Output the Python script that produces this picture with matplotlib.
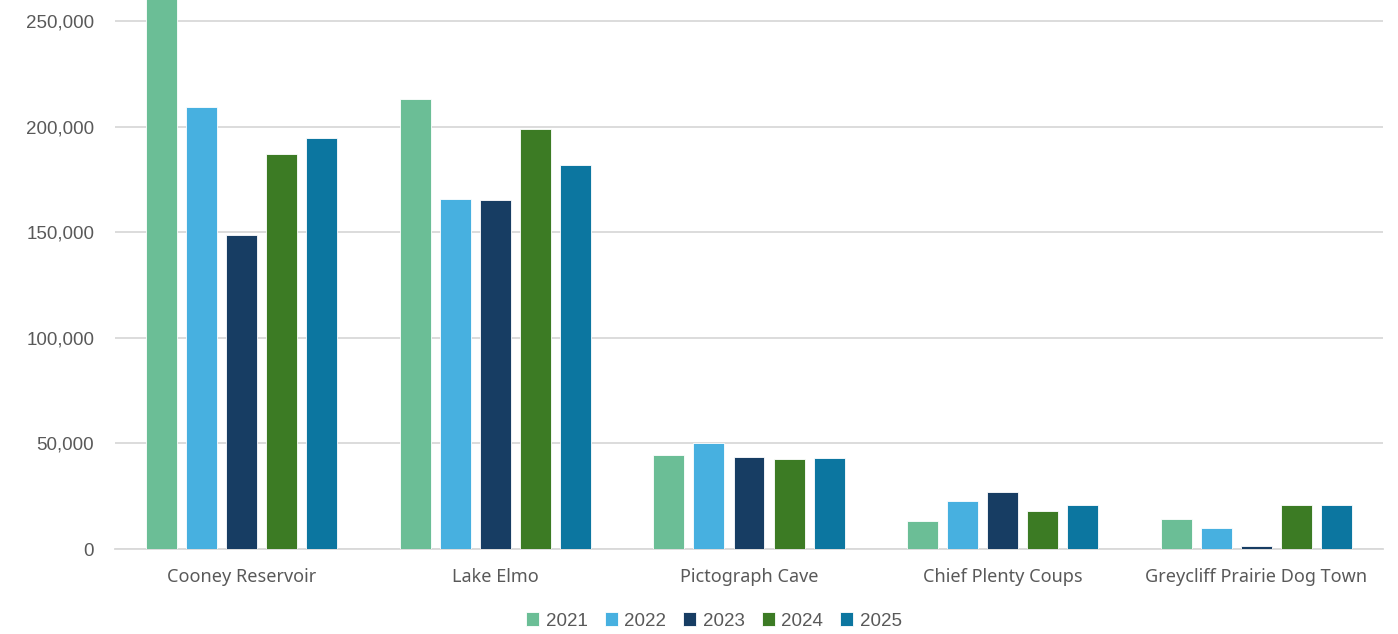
import numpy as np
import matplotlib.pyplot as plt
from matplotlib.ticker import FuncFormatter

sites = ["Cooney Reservoir", "Lake Elmo", "Pictograph Cave", "Chief Plenty Coups",
         "Greycliff Prairie Dog Town"]
years = ["2021", "2022", "2023", "2024", "2025"]

v2021 = [268000, 213200, 44600, 13300, 14250]
v2022 = [209300, 165700, 50200, 22650, 9970]
v2023 = [148600, 165200, 43800, 27050, 1200]
v2024 = [186900, 198900, 42600, 18050, 20900]
v2025 = [194500, 181700, 43200, 20900, 20750]
series = [v2021, v2022, v2023, v2024, v2025]

colors = ["#6BBE96", "#47B0E0", "#173D63", "#3C7B24", "#0C76A0"]

plt.rcParams['font.family'] = ['Liberation Sans', 'DejaVu Sans']

fig = plt.figure(figsize=(13.98, 6.34), dpi=100)
ax = fig.add_axes([115 / 1398, 1 - 549 / 634, 1268 / 1398, 549 / 634])

x = np.arange(len(sites))
step = 0.158
width = 0.122
for i, (vals, c) in enumerate(zip(series, colors)):
    ax.bar(x + (i - 2) * step, vals, width, color=c, label=years[i],
           edgecolor="white", linewidth=0.6, zorder=3)

ax.set_xlim(-0.5, len(sites) - 0.5)
ax.set_ylim(0, 260000)
ax.set_yticks(np.arange(0, 250001, 50000))
ax.yaxis.set_major_formatter(FuncFormatter(lambda v, p: f"{int(v):,}"))
ax.grid(axis="y", color="#D9D9D9", linewidth=1.3, zorder=0)
for s in ["top", "right", "left"]:
    ax.spines[s].set_visible(False)
ax.spines["bottom"].set_color("#D9D9D9")
ax.spines["bottom"].set_linewidth(1.3)
ax.tick_params(axis="both", length=0, labelsize=13.5, colors="#595959")
ax.tick_params(axis="y", pad=15)
ax.tick_params(axis="x", pad=14)
ax.set_xticks(x)
ax.set_xticklabels(sites, fontfamily=["Noto Sans", "DejaVu Sans"], fontsize=13)

fig.legend(loc="center", bbox_to_anchor=(714 / 1398, 1 - 621 / 634), ncol=5,
           frameon=False, fontsize=13.5, handlelength=0.7, handleheight=0.7,
           handletextpad=0.35, columnspacing=0.9, labelcolor="#595959")

fig.savefig("out.png", dpi=100)
